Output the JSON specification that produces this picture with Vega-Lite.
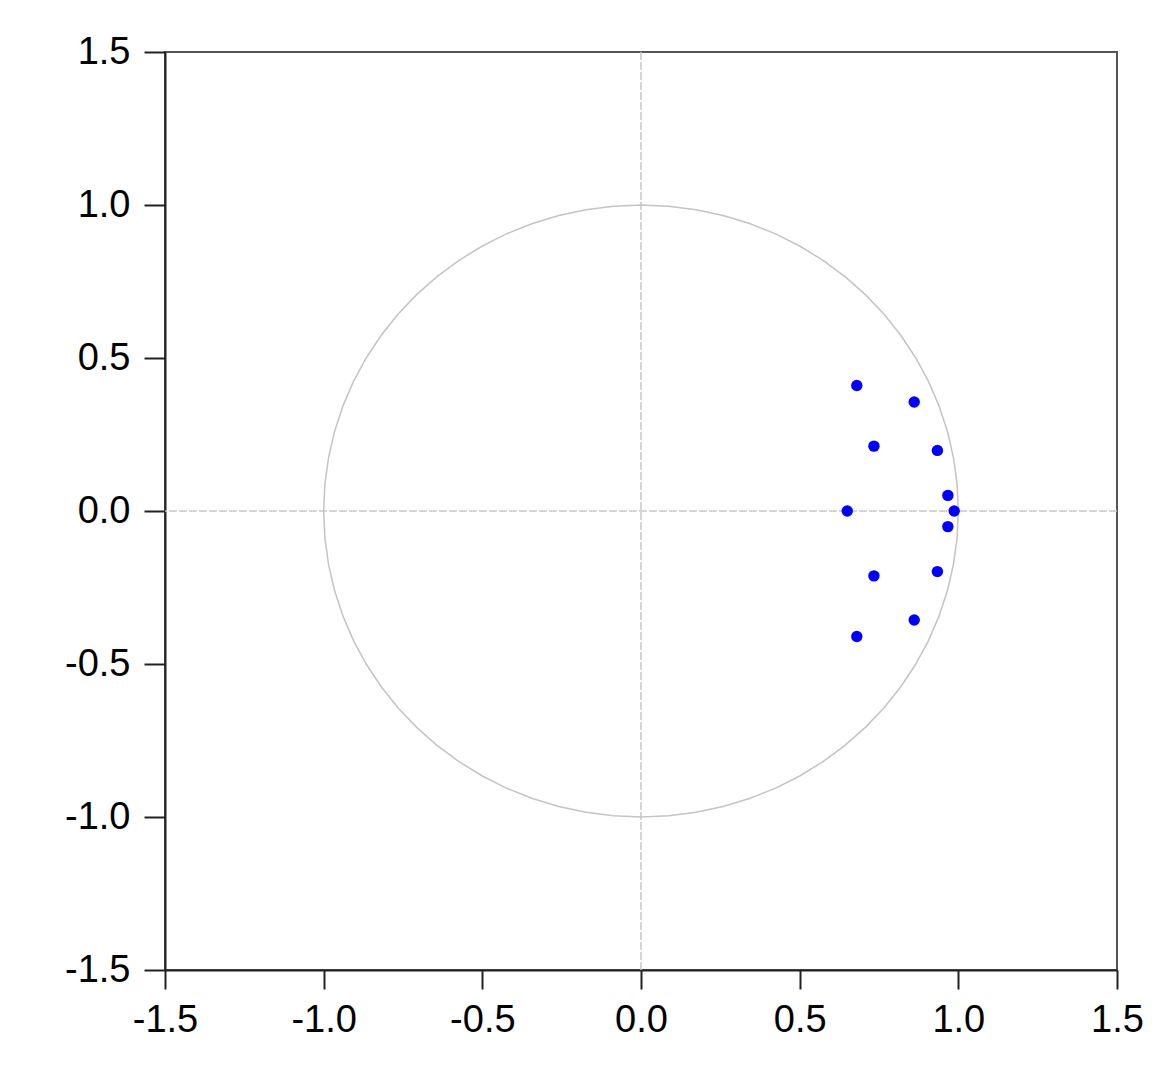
{
  "$schema": "https://vega.github.io/schema/vega-lite/v6.json",
  "width": 952,
  "height": 918,
  "autosize": "none",
  "padding": {"left": 165, "top": 52, "right": 35, "bottom": 117},
  "background": "white",
  "config": {
    "view": {"stroke": "#555555", "strokeWidth": 2}
  },
  "datasets": {
    "roots": [
      {"re": 0.680, "im": 0.410},
      {"re": 0.861, "im": 0.356},
      {"re": 0.734, "im": 0.212},
      {"re": 0.934, "im": 0.198},
      {"re": 0.967, "im": 0.051},
      {"re": 0.987, "im": 0.0},
      {"re": 0.650, "im": 0.0},
      {"re": 0.967, "im": -0.051},
      {"re": 0.934, "im": -0.198},
      {"re": 0.734, "im": -0.212},
      {"re": 0.861, "im": -0.356},
      {"re": 0.680, "im": -0.410}
    ],
    "circle": [
      {"i": 0, "cx": 1.0, "cy": 0.0},
      {"i": 1, "cx": 0.9962, "cy": 0.0872},
      {"i": 2, "cx": 0.9848, "cy": 0.1736},
      {"i": 3, "cx": 0.9659, "cy": 0.2588},
      {"i": 4, "cx": 0.9397, "cy": 0.342},
      {"i": 5, "cx": 0.9063, "cy": 0.4226},
      {"i": 6, "cx": 0.866, "cy": 0.5},
      {"i": 7, "cx": 0.8192, "cy": 0.5736},
      {"i": 8, "cx": 0.766, "cy": 0.6428},
      {"i": 9, "cx": 0.7071, "cy": 0.7071},
      {"i": 10, "cx": 0.6428, "cy": 0.766},
      {"i": 11, "cx": 0.5736, "cy": 0.8192},
      {"i": 12, "cx": 0.5, "cy": 0.866},
      {"i": 13, "cx": 0.4226, "cy": 0.9063},
      {"i": 14, "cx": 0.342, "cy": 0.9397},
      {"i": 15, "cx": 0.2588, "cy": 0.9659},
      {"i": 16, "cx": 0.1736, "cy": 0.9848},
      {"i": 17, "cx": 0.0872, "cy": 0.9962},
      {"i": 18, "cx": 0.0, "cy": 1.0},
      {"i": 19, "cx": -0.0872, "cy": 0.9962},
      {"i": 20, "cx": -0.1736, "cy": 0.9848},
      {"i": 21, "cx": -0.2588, "cy": 0.9659},
      {"i": 22, "cx": -0.342, "cy": 0.9397},
      {"i": 23, "cx": -0.4226, "cy": 0.9063},
      {"i": 24, "cx": -0.5, "cy": 0.866},
      {"i": 25, "cx": -0.5736, "cy": 0.8192},
      {"i": 26, "cx": -0.6428, "cy": 0.766},
      {"i": 27, "cx": -0.7071, "cy": 0.7071},
      {"i": 28, "cx": -0.766, "cy": 0.6428},
      {"i": 29, "cx": -0.8192, "cy": 0.5736},
      {"i": 30, "cx": -0.866, "cy": 0.5},
      {"i": 31, "cx": -0.9063, "cy": 0.4226},
      {"i": 32, "cx": -0.9397, "cy": 0.342},
      {"i": 33, "cx": -0.9659, "cy": 0.2588},
      {"i": 34, "cx": -0.9848, "cy": 0.1736},
      {"i": 35, "cx": -0.9962, "cy": 0.0872},
      {"i": 36, "cx": -1.0, "cy": 0.0},
      {"i": 37, "cx": -0.9962, "cy": -0.0872},
      {"i": 38, "cx": -0.9848, "cy": -0.1736},
      {"i": 39, "cx": -0.9659, "cy": -0.2588},
      {"i": 40, "cx": -0.9397, "cy": -0.342},
      {"i": 41, "cx": -0.9063, "cy": -0.4226},
      {"i": 42, "cx": -0.866, "cy": -0.5},
      {"i": 43, "cx": -0.8192, "cy": -0.5736},
      {"i": 44, "cx": -0.766, "cy": -0.6428},
      {"i": 45, "cx": -0.7071, "cy": -0.7071},
      {"i": 46, "cx": -0.6428, "cy": -0.766},
      {"i": 47, "cx": -0.5736, "cy": -0.8192},
      {"i": 48, "cx": -0.5, "cy": -0.866},
      {"i": 49, "cx": -0.4226, "cy": -0.9063},
      {"i": 50, "cx": -0.342, "cy": -0.9397},
      {"i": 51, "cx": -0.2588, "cy": -0.9659},
      {"i": 52, "cx": -0.1736, "cy": -0.9848},
      {"i": 53, "cx": -0.0872, "cy": -0.9962},
      {"i": 54, "cx": 0.0, "cy": -1.0},
      {"i": 55, "cx": 0.0872, "cy": -0.9962},
      {"i": 56, "cx": 0.1736, "cy": -0.9848},
      {"i": 57, "cx": 0.2588, "cy": -0.9659},
      {"i": 58, "cx": 0.342, "cy": -0.9397},
      {"i": 59, "cx": 0.4226, "cy": -0.9063},
      {"i": 60, "cx": 0.5, "cy": -0.866},
      {"i": 61, "cx": 0.5736, "cy": -0.8192},
      {"i": 62, "cx": 0.6428, "cy": -0.766},
      {"i": 63, "cx": 0.7071, "cy": -0.7071},
      {"i": 64, "cx": 0.766, "cy": -0.6428},
      {"i": 65, "cx": 0.8192, "cy": -0.5736},
      {"i": 66, "cx": 0.866, "cy": -0.5},
      {"i": 67, "cx": 0.9063, "cy": -0.4226},
      {"i": 68, "cx": 0.9397, "cy": -0.342},
      {"i": 69, "cx": 0.9659, "cy": -0.2588},
      {"i": 70, "cx": 0.9848, "cy": -0.1736},
      {"i": 71, "cx": 0.9962, "cy": -0.0872},
      {"i": 72, "cx": 1.0, "cy": 0.0}
    ],
    "zero": [{"v": 0}]
  },
  "layer": [
    {
      "data": {"name": "zero"},
      "mark": {"type": "rule", "color": "#c8c8c8", "strokeWidth": 1.5, "strokeDash": [8, 2]},
      "encoding": {
        "x": {
          "field": "v", "type": "quantitative",
          "scale": {"domain": [-1.5, 1.5], "nice": false, "zero": false},
          "axis": {
            "orient": "bottom", "title": null, "grid": false,
            "values": [-1.5, -1, -0.5, 0, 0.5, 1, 1.5],
            "labelExpr": "replace(format(datum.value, '.1f'), '\u2212', '-')",
            "labelFont": "Liberation Sans", "labelFontSize": 38, "labelColor": "#000000",
            "labelFlush": false, "labelOverlap": false, "labelPadding": 12,
            "tickColor": "#222222", "tickWidth": 2, "tickSize": 19,
            "domainColor": "#222222", "domainWidth": 2
          }
        }
      }
    },
    {
      "data": {"name": "zero"},
      "mark": {"type": "rule", "color": "#c8c8c8", "strokeWidth": 1.5, "strokeDash": [8, 2]},
      "encoding": {
        "y": {
          "field": "v", "type": "quantitative",
          "scale": {"domain": [-1.5, 1.5], "nice": false, "zero": false},
          "axis": {
            "orient": "left", "title": null, "grid": false,
            "values": [-1.5, -1, -0.5, 0, 0.5, 1, 1.5],
            "labelExpr": "replace(format(datum.value, '.1f'), '\u2212', '-')",
            "labelFont": "Liberation Sans", "labelFontSize": 38, "labelColor": "#000000",
            "labelFlush": false, "labelOverlap": false, "labelPadding": 14,
            "tickColor": "#222222", "tickWidth": 2, "tickSize": 21,
            "domainColor": "#222222", "domainWidth": 2
          }
        }
      }
    },
    {
      "data": {"name": "circle"},
      "mark": {"type": "line", "color": "#c4c4c4", "strokeWidth": 1.5},
      "encoding": {
        "x": {"field": "cx", "type": "quantitative"},
        "y": {"field": "cy", "type": "quantitative"},
        "order": {"field": "i", "type": "quantitative"}
      }
    },
    {
      "data": {"name": "roots"},
      "mark": {"type": "point", "filled": true, "size": 130, "color": "#0000ff", "opacity": 1},
      "encoding": {
        "x": {"field": "re", "type": "quantitative"},
        "y": {"field": "im", "type": "quantitative"}
      }
    }
  ]
}
